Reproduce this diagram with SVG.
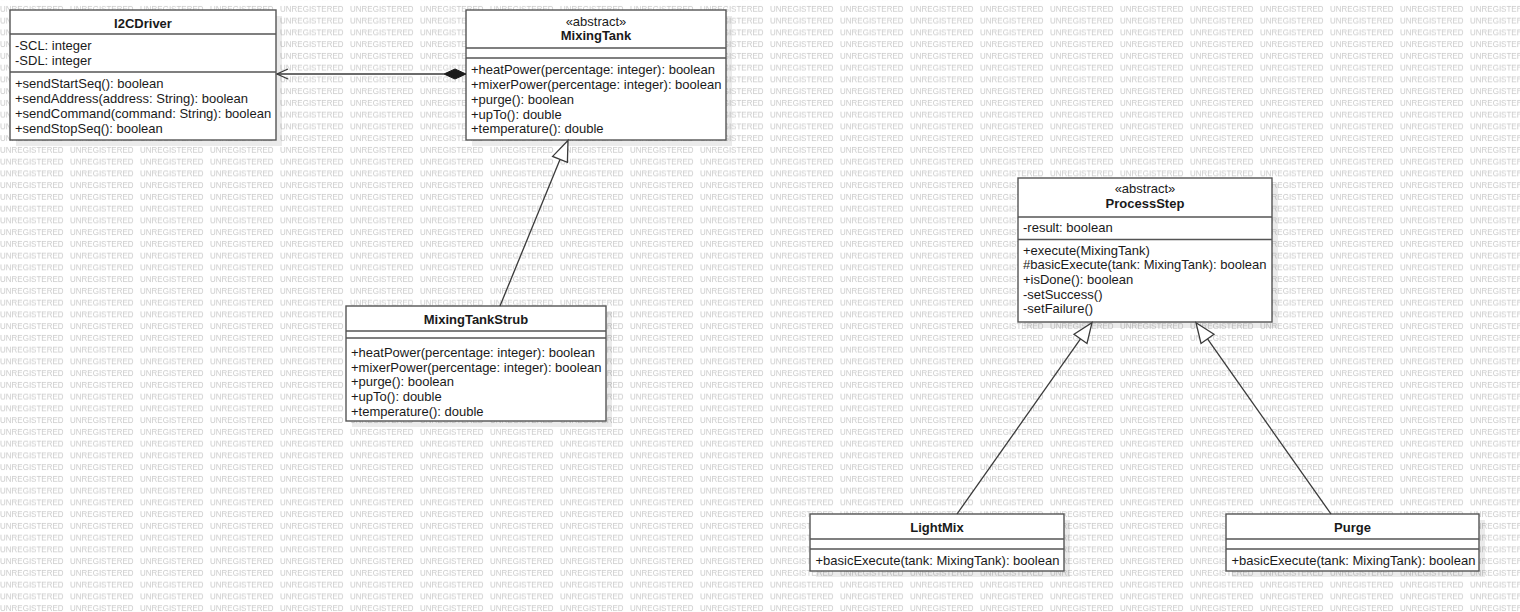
<svg xmlns="http://www.w3.org/2000/svg" width="1520" height="612" viewBox="0 0 1520 612">
<style>
text{font-family:"Liberation Sans",Arial,sans-serif;font-size:13px;fill:#1a1a1a}
.t{font-weight:bold;text-anchor:middle}
.st{text-anchor:middle}
.box{fill:#fff;stroke:#555;stroke-width:1.4}
.sh{fill:#000;fill-opacity:0.08}
.div{stroke:#555;stroke-width:1.4}
.wm{font-size:8px;fill:#cacaca}
.ln{stroke:#3a3a3a;stroke-width:1.3;fill:none}
.tri{fill:#fff;stroke:#3a3a3a;stroke-width:1.3}
</style>
<defs>
<pattern id="wm" patternUnits="userSpaceOnUse" x="0" y="3" width="70" height="11.75">
<text class="wm" x="0" y="8.9">UNREGISTERED</text>
</pattern>
</defs>
<rect width="1520" height="612" fill="#fff"/>
<rect width="1520" height="612" fill="url(#wm)"/>

<g id="I2CDriver">
<rect class="sh" x="16" y="16" width="266" height="130"/>
<rect class="box" x="10" y="10" width="266" height="130"/>
<text class="t" x="143" y="27.5">I2CDriver</text>
<line class="div" x1="10" y1="34" x2="276" y2="34"/>
<text x="15" y="50">-SCL: integer</text>
<text x="15" y="65">-SDL: integer</text>
<line class="div" x1="10" y1="72" x2="276" y2="72"/>
<text x="15" y="87.5">+sendStartSeq(): boolean</text>
<text x="15" y="102.5">+sendAddress(address: String): boolean</text>
<text x="15" y="117.5">+sendCommand(command: String): boolean</text>
<text x="15" y="132.5">+sendStopSeq(): boolean</text>
</g>

<g id="MixingTank">
<rect class="sh" x="472" y="16" width="260" height="130"/>
<rect class="box" x="466" y="10" width="260" height="130"/>
<text class="st" x="596" y="25.5">«abstract»</text>
<text class="t" x="596" y="39.5">MixingTank</text>
<line class="div" x1="466" y1="48" x2="726" y2="48"/>
<line class="div" x1="466" y1="58" x2="726" y2="58"/>
<text x="471" y="73.5">+heatPower(percentage: integer): boolean</text>
<text x="471" y="88.5">+mixerPower(percentage: integer): boolean</text>
<text x="471" y="103.5">+purge(): boolean</text>
<text x="471" y="118.5">+upTo(): double</text>
<text x="471" y="133">+temperature(): double</text>
</g>

<g id="ProcessStep">
<rect class="sh" x="1024" y="184" width="254" height="144"/>
<rect class="box" x="1018" y="178" width="254" height="144"/>
<text class="st" x="1145" y="193">«abstract»</text>
<text class="t" x="1145" y="208">ProcessStep</text>
<line class="div" x1="1018" y1="217" x2="1272" y2="217"/>
<text x="1023" y="231.5">-result: boolean</text>
<line class="div" x1="1018" y1="239.5" x2="1272" y2="239.5"/>
<text x="1023" y="254.5">+execute(MixingTank)</text>
<text x="1023" y="269.2">#basicExecute(tank: MixingTank): boolean</text>
<text x="1023" y="283.9">+isDone(): boolean</text>
<text x="1023" y="298.5">-setSuccess()</text>
<text x="1023" y="313.1">-setFailure()</text>
</g>

<g id="MixingTankStrub">
<rect class="sh" x="352" y="312" width="260" height="115"/>
<rect class="box" x="346" y="306" width="260" height="115"/>
<text class="t" x="476" y="324">MixingTankStrub</text>
<line class="div" x1="346" y1="331" x2="606" y2="331"/>
<line class="div" x1="346" y1="338" x2="606" y2="338"/>
<text x="351" y="356.5">+heatPower(percentage: integer): boolean</text>
<text x="351" y="371.5">+mixerPower(percentage: integer): boolean</text>
<text x="351" y="386">+purge(): boolean</text>
<text x="351" y="401">+upTo(): double</text>
<text x="351" y="415.5">+temperature(): double</text>
</g>

<g id="LightMix">
<rect class="sh" x="816" y="520" width="254" height="57"/>
<rect class="box" x="810" y="514" width="254" height="57"/>
<text class="t" x="937" y="531.5">LightMix</text>
<line class="div" x1="810" y1="539" x2="1064" y2="539"/>
<line class="div" x1="810" y1="549" x2="1064" y2="549"/>
<text x="815.5" y="564.5">+basicExecute(tank: MixingTank): boolean</text>
</g>

<g id="Purge">
<rect class="sh" x="1232" y="520" width="253" height="57"/>
<rect class="box" x="1226" y="514" width="253" height="57"/>
<text class="t" x="1352.5" y="531.5">Purge</text>
<line class="div" x1="1226" y1="539" x2="1479" y2="539"/>
<line class="div" x1="1226" y1="549" x2="1479" y2="549"/>
<text x="1231.5" y="564.5">+basicExecute(tank: MixingTank): boolean</text>
</g>

<g id="connectors">
<line class="ln" x1="277" y1="74" x2="444" y2="74"/>
<polyline class="ln" points="288,69 277,74 288,79"/>
<polygon points="466,74 455,69 444,74 455,79" fill="#1a1a1a" stroke="#1a1a1a" stroke-width="1"/>

<line class="ln" x1="500" y1="306" x2="560" y2="159.4"/>
<polygon class="tri" points="568,140.5 567.4,162.4 552.6,156.4"/>

<line class="ln" x1="957" y1="514" x2="1080.5" y2="338.9"/>
<polygon class="tri" points="1092,322.7 1087,343.5 1074,334.3"/>

<line class="ln" x1="1331" y1="514" x2="1207.5" y2="338.9"/>
<polygon class="tri" points="1196,322.7 1214,334.3 1201,343.5"/>
</g>
</svg>
